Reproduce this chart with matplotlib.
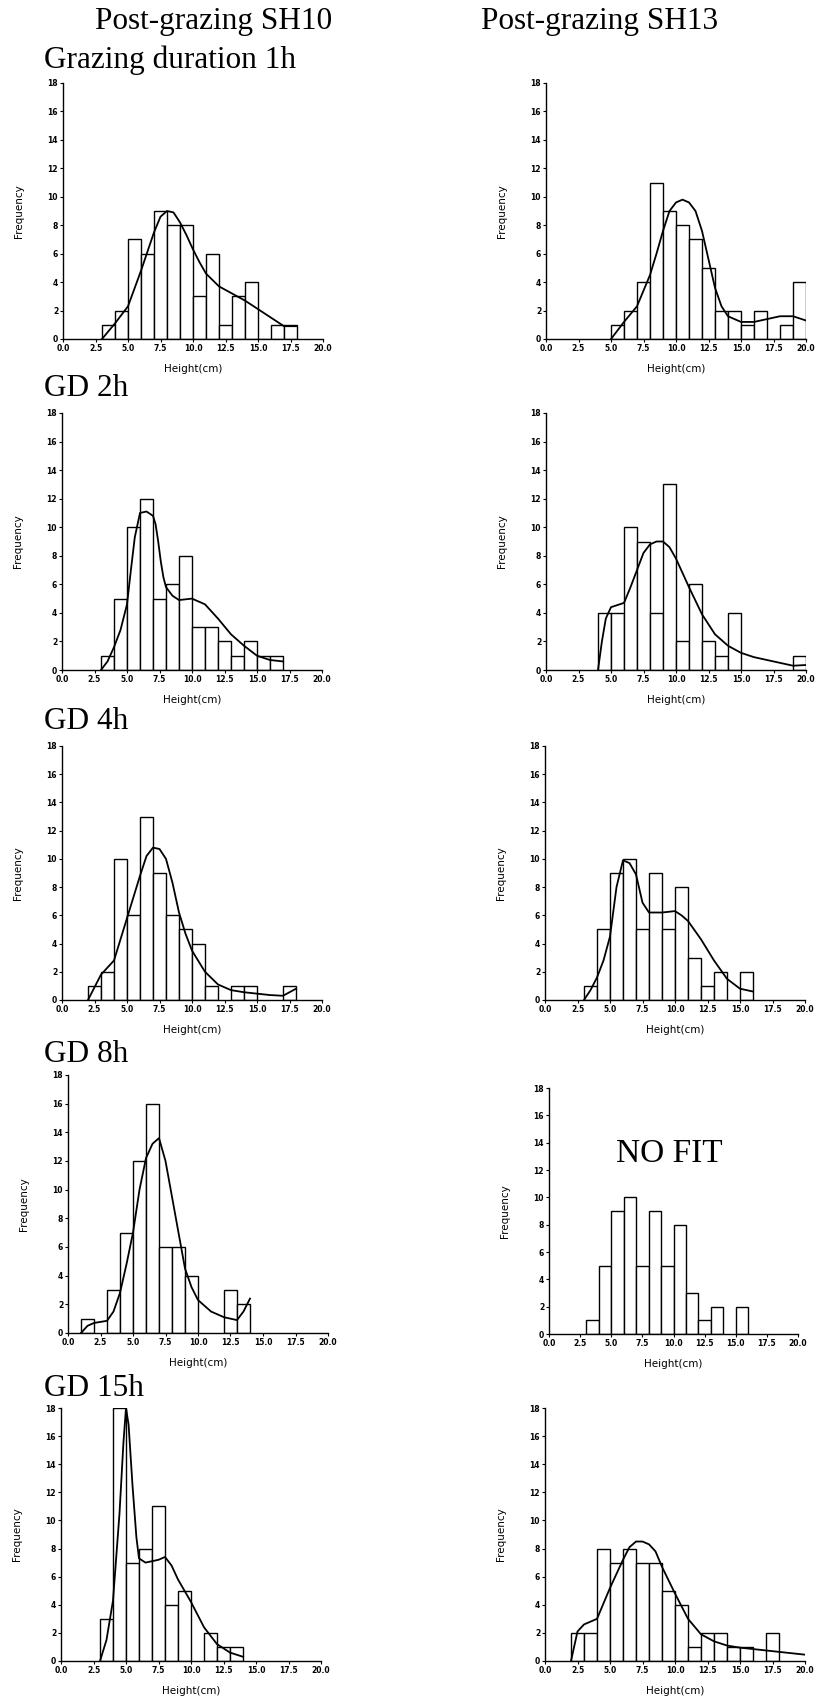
import numpy as np
import matplotlib
matplotlib.use("Agg")
import matplotlib.pyplot as plt

# bin edges: 1 cm wide bins, listed by left edge and frequency
p1_left = [3, 4, 5, 6, 7, 8, 9, 10, 11, 12, 13, 14, 15, 16, 17]
p1_freq = [1, 2, 7, 6, 9, 8, 8, 3, 6, 1, 3, 4, 0, 1, 1]
p1_cx = [3, 4, 5, 6, 7, 7.5, 8, 8.5, 9, 9.5, 10, 10.5, 11, 12, 13, 14, 15, 16, 17, 18]
p1_cy = [0, 1.1, 2.3, 4.8, 7.5, 8.6, 9.0, 8.9, 8.2, 7.3, 6.3, 5.4, 4.6, 3.7, 3.2, 2.7, 2.1, 1.5, 0.9, 0.9]

p2_left = [5, 6, 7, 8, 9, 10, 11, 12, 13, 14, 15, 16, 17, 18, 19]
p2_freq = [1, 2, 4, 11, 9, 8, 7, 5, 2, 2, 1, 2, 0, 1, 4]
p2_cx = [5, 6, 7, 8, 8.5, 9, 9.5, 10, 10.5, 11, 11.5, 12, 12.5, 13, 13.5, 14, 15, 16, 17, 18, 19, 20]
p2_cy = [0, 1.2, 2.3, 4.5, 6.0, 7.6, 9.0, 9.6, 9.8, 9.6, 9.0, 7.6, 5.6, 3.6, 2.3, 1.6, 1.2, 1.2, 1.4, 1.6, 1.6, 1.3]

p3_left = [3, 4, 5, 6, 7, 8, 9, 10, 11, 12, 13, 14, 15, 16]
p3_freq = [1, 5, 10, 12, 5, 6, 8, 3, 3, 2, 1, 2, 1, 1]
p3_cx = [3, 3.5, 4, 4.5, 5, 5.3, 5.6, 6, 6.5, 7, 7.2, 7.4, 7.6, 7.8, 8, 8.5, 9, 10, 11, 12, 13, 14, 15, 16, 17]
p3_cy = [0, 0.6, 1.6, 2.8, 4.6, 7.0, 9.3, 11.0, 11.1, 10.8, 10.2, 9.0, 7.6, 6.5, 5.8, 5.2, 4.9, 5.0, 4.6, 3.6, 2.5, 1.7, 1.0, 0.7, 0.6]

p4_left = [4, 5, 6, 7, 8, 9, 10, 11, 12, 13, 14, 19]
p4_freq = [4, 4, 10, 9, 4, 13, 2, 6, 2, 1, 4, 1]
p4_cx = [4, 4.3, 4.6, 5, 6, 6.5, 7, 7.5, 8, 8.5, 9, 9.5, 10, 11, 12, 13, 14, 15, 16, 17, 18, 19, 20]
p4_cy = [0, 2.0, 3.6, 4.4, 4.7, 5.8, 7.0, 8.2, 8.8, 9.0, 9.0, 8.6, 7.8, 5.8, 3.9, 2.5, 1.7, 1.2, 0.9, 0.7, 0.5, 0.3, 0.35]

p5_left = [2, 3, 4, 5, 6, 7, 8, 9, 10, 11, 13, 14, 17]
p5_freq = [1, 2, 10, 6, 13, 9, 6, 5, 4, 1, 1, 1, 1]
p5_cx = [2, 3, 4, 5, 6, 6.5, 7, 7.5, 8, 8.5, 9, 9.5, 10, 11, 12, 13, 14, 15, 16, 17, 18]
p5_cy = [0, 1.8, 2.8, 5.8, 8.8, 10.2, 10.8, 10.7, 10.0, 8.3, 6.2, 4.7, 3.5, 2.0, 1.1, 0.7, 0.55, 0.45, 0.35, 0.3, 0.8]

p6_left = [3, 4, 5, 6, 7, 8, 9, 10, 11, 12, 13, 15]
p6_freq = [1, 5, 9, 10, 5, 9, 5, 8, 3, 1, 2, 2]
p6_cx = [3, 3.5, 4, 4.5, 5, 5.5, 6, 6.5, 7, 7.5, 8, 9, 10, 10.5, 11, 12, 13, 14, 15, 16]
p6_cy = [0, 0.7, 1.6, 2.8, 4.5, 8.0, 9.9, 9.7, 8.9, 6.9, 6.2, 6.2, 6.3, 6.0, 5.6, 4.3, 2.8, 1.5, 0.8, 0.6]

p7_left = [1, 3, 4, 5, 6, 7, 8, 9, 12, 13]
p7_freq = [1, 3, 7, 12, 16, 6, 6, 4, 3, 2]
p7_cx = [1, 1.5, 2, 3, 3.5, 4, 4.5, 5, 5.5, 6, 6.5, 7, 7.5, 8, 8.5, 9, 9.5, 10, 11, 12, 13, 13.5, 14]
p7_cy = [0, 0.5, 0.7, 0.85, 1.5, 2.8, 4.8, 7.0, 10.0, 12.2, 13.2, 13.6, 12.0, 9.5, 7.0, 4.5, 3.2, 2.3, 1.5, 1.1, 0.9, 1.5, 2.4]

p8_left = [3, 4, 5, 6, 7, 8, 9, 10, 11, 12, 13, 15]
p8_freq = [1, 5, 9, 10, 5, 9, 5, 8, 3, 1, 2, 2]

p9_left = [3, 4, 5, 6, 7, 8, 9, 11, 12, 13]
p9_freq = [3, 18, 7, 8, 11, 4, 5, 2, 1, 1]
p9_cx = [3, 3.5, 4, 4.5, 4.8, 5, 5.2, 5.5, 5.8, 6, 6.5, 7, 7.5, 8, 8.5, 9, 10, 11, 12, 13, 14]
p9_cy = [0, 1.5, 4.3, 10.5, 15.5, 18.0, 16.8, 12.5, 8.8, 7.3, 7.0, 7.1, 7.2, 7.4, 6.8, 5.8, 4.2, 2.4, 1.2, 0.6, 0.3]

p10_left = [2, 3, 4, 5, 6, 7, 8, 9, 10, 11, 12, 13, 14, 15, 17]
p10_freq = [2, 2, 8, 7, 8, 7, 7, 5, 4, 1, 2, 2, 1, 1, 2]
p10_cx = [2, 2.5, 3, 4, 5, 6, 6.5, 7, 7.5, 8, 8.5, 9, 10, 11, 12, 13, 14, 15, 16, 17, 18, 19, 20]
p10_cy = [0, 2.1, 2.6, 3.0, 5.2, 7.2, 8.1, 8.5, 8.5, 8.3, 7.8, 6.7, 4.8, 3.0, 1.9, 1.4, 1.1, 0.95, 0.85, 0.75, 0.65, 0.55, 0.45]

W, H = 816, 1697
fig = plt.figure(figsize=(W / 100, H / 100), dpi=100)

def px_axes(x0, x1, ytop, ybot):
    return fig.add_axes([x0 / W, 1 - ybot / H, (x1 - x0) / W, (ybot - ytop) / H])

def draw(ax, left, freq, cx=None, cy=None):
    ax.bar(left, freq, width=1.0, align='edge', color='white',
           edgecolor='black', linewidth=1.0)
    if cx is not None:
        ax.plot(cx, cy, color='black', lw=1.3)
    ax.set_xlim(0, 20)
    ax.set_ylim(0, 18)
    ax.set_xticks(np.arange(0, 20.1, 2.5))
    ax.set_xticklabels(['%.1f' % v for v in np.arange(0, 20.1, 2.5)])
    ax.set_yticks(range(0, 19, 2))
    for s in ['top', 'right']:
        ax.spines[s].set_visible(False)
    for s in ['left', 'bottom']:
        ax.spines[s].set_linewidth(1.0)
    ax.tick_params(labelsize=5.5, length=2, width=0.8, pad=1.5)
    for t in ax.get_xticklabels() + ax.get_yticklabels():
        t.set_fontweight('bold')
    ax.set_ylabel('Frequency', fontsize=7.5, labelpad=17)
    ax.set_xlabel('Height(cm)', fontsize=7.5, labelpad=8)

# axes boxes in pixels: x at 0, x at 20, y at 18, y at 0
boxes = [
    (63, 323, 83, 339), (546, 806, 83, 339),
    (62, 322, 413, 670), (546, 806, 413, 670),
    (62, 322, 746, 1000), (545, 805, 746, 1000),
    (68, 328, 1075, 1333), (549, 798, 1088, 1334),
    (61, 321, 1408, 1661), (545, 805, 1408, 1661),
]
data = [
    (p1_left, p1_freq, p1_cx, p1_cy), (p2_left, p2_freq, p2_cx, p2_cy),
    (p3_left, p3_freq, p3_cx, p3_cy), (p4_left, p4_freq, p4_cx, p4_cy),
    (p5_left, p5_freq, p5_cx, p5_cy), (p6_left, p6_freq, p6_cx, p6_cy),
    (p7_left, p7_freq, p7_cx, p7_cy), (p8_left, p8_freq, None, None),
    (p9_left, p9_freq, p9_cx, p9_cy), (p10_left, p10_freq, p10_cx, p10_cy),
]
for b, d in zip(boxes, data):
    ax = px_axes(*b)
    draw(ax, *d)
    if d[2] is None:
        ax.text(9.7, 13.2, 'NO FIT', fontsize=24, family='Liberation Serif',
                ha='center', va='center')

def ftext(x, y, s, ha='left'):
    fig.text(x / W, 1 - y / H, s, fontsize=22.5, family='Liberation Serif',
             ha=ha, va='center')

ftext(214, 21, 'Post-grazing SH10', ha='center')
ftext(600, 21, 'Post-grazing SH13', ha='center')
ftext(44, 60, 'Grazing duration 1h')
ftext(44, 388, 'GD 2h')
ftext(44, 722, 'GD 4h')
ftext(44, 1054, 'GD 8h')
ftext(44, 1388, 'GD 15h')

fig.savefig('out.png', dpi=100, facecolor='white')
